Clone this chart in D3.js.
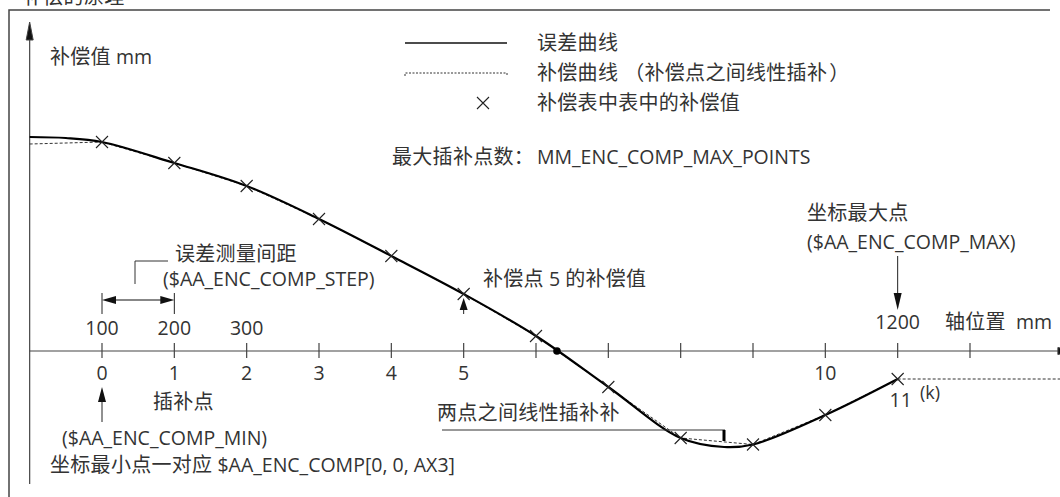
<!DOCTYPE html>
<html>
<head>
<meta charset="utf-8">
<style>
  body { margin: 0; background: #fff; }
  svg { display: block; }
  text { font-family: "Open Sans", "Noto Sans CJK SC", sans-serif; font-size: 19.5px; fill: #333; }
  tspan.cjk { font-family: "Noto Sans CJK SC", sans-serif; font-size: 20px; letter-spacing: 0.3px;
    font-variant-east-asian: full-width; font-feature-settings: "fwid" 1; }
  .axis line, .axis path { stroke: #444; }
</style>
</head>
<body>
<svg id="chart" width="1060" height="497"></svg>
<script src="https://cdn.jsdelivr.net/npm/d3@7"></script>
<script>
// compensation table points (index, value)
var pointIdx = [0, 1, 2, 3, 4, 5, 6, 7, 8, 9, 10, 11];
var compValues = [20.9, 18.8, 16.5, 13.2, 9.5, 5.7, 1.5, -3.6, -8.7, -9.35, -6.4, -2.8];

// error curve samples (measured)
var errX = [-1, -0.5, 0, 1, 2, 3, 4, 5, 6, 7, 8, 8.6, 9, 10, 11];
var errY = [21.4, 21.3, 20.9, 18.8, 16.5, 13.2, 9.5, 5.7, 1.5, -3.6, -8.7, -9.6, -9.35, -6.4, -2.8];

// axis ticks and labels
var tickIdx = [0, 1, 2, 3, 4, 5, 6, 7, 8, 9, 10, 11, 12];
var tickLabels = ["0", "1", "2", "3", "4", "5", "", "", "", "", "10", "", ""];
var posIdx = [0, 1, 2, 11];
var posLabels = ["100", "200", "300", "1200"];

var legendItems = ["误差曲线", "补偿曲线（补偿点之间线性插补）", "补偿表中表中的补偿值"];

var svg = d3.select("#chart");

var x = d3.scaleLinear().domain([0, 12]).range([102, 970]);
var y = d3.scaleLinear().domain([0, 10]).range([351, 251]);

var x0 = x(-1), xEnd = x(13.45), y0 = y(0);

// write text, CJK runs in their own tspan
var cjkRe = /[\u3000-\u303f\u4e00-\u9fff\uff00-\uffef]/;
function label(g, tx, ty, str) {
  var t = g.append("text").attr("x", tx).attr("y", ty).attr("xml:space", "preserve");
  var runs = str.match(/[\u3000-\u303f\u4e00-\u9fff\uff00-\uffef]+|[^\u3000-\u303f\u4e00-\u9fff\uff00-\uffef]+/g);
  runs.forEach(function (r) {
    // split off full-width brackets so they keep a full em
    r.split(/(（|）)/).filter(s => s.length).forEach(function (s) {
      var sp = t.append("tspan").text(s);
      if (cjkRe.test(s)) sp.attr("class", "cjk");
      if (s == "（") sp.attr("dx", 6);
      if (s == "）") sp.attr("dx", 2);
    });
  });
  return t;
}

function arrowHead(g, tx, ty, dir, len, hw) {
  var p;
  if (dir == "up") p = [[tx, ty], [tx - hw, ty + len], [tx + hw, ty + len]];
  if (dir == "down") p = [[tx, ty], [tx - hw, ty - len], [tx + hw, ty - len]];
  if (dir == "left") p = [[tx, ty], [tx + len, ty - hw], [tx + len, ty + hw]];
  if (dir == "right") p = [[tx, ty], [tx - len, ty - hw], [tx - len, ty + hw]];
  g.append("path").attr("d", "M" + p.join("L") + "Z").attr("fill", "#111");
}

function cross(g, cx, cy, r) {
  g.append("path")
    .attr("d", "M" + (cx - r) + "," + (cy - r) + "L" + (cx + r) + "," + (cy + r) +
      "M" + (cx - r) + "," + (cy + r) + "L" + (cx + r) + "," + (cy - r))
    .attr("stroke", "#222").attr("stroke-width", 1.1).attr("fill", "none");
}

// cut-off title and frame
label(svg, 23, 4, "补偿的原理");
svg.append("path").attr("d", "M9,497V10H1050").attr("fill", "none")
  .attr("stroke", "#444").attr("stroke-width", 1.5);

// axes
var ax = svg.append("g").attr("class", "axis");
ax.append("line").attr("x1", x0).attr("x2", x0).attr("y1", 484).attr("y2", 30)
  .attr("stroke-width", 1.2);
arrowHead(ax, x0, 22, "up", 18, 3.5);
ax.append("line").attr("x1", x0).attr("x2", xEnd - 10).attr("y1", y0).attr("y2", y0)
  .attr("stroke-width", 1.2);
arrowHead(ax, xEnd, y0, "right", 17, 3.5);

ax.selectAll(".tick").data(tickIdx).enter().append("line")
  .attr("x1", d => x(d)).attr("x2", d => x(d))
  .attr("y1", y0 - 8).attr("y2", y0 + 7).attr("stroke-width", 1.2);

svg.selectAll(".tlab").data(tickIdx).enter().append("text")
  .attr("x", d => x(d)).attr("y", y0 + 29).attr("text-anchor", "middle")
  .text((d, i) => tickLabels[i]);

svg.selectAll(".plab").data(posIdx).enter().append("text")
  .attr("x", d => x(d)).attr("y", (d, i) => i == 3 ? y0 - 22 : y0 - 16)
  .attr("text-anchor", "middle")
  .text((d, i) => posLabels[i]);

label(svg, 945, y0 - 22, "轴位置  mm");
label(svg, 50, 64, "补偿值 mm");

// compensation curve (dashed, linear between points)
var compLine = d3.line().x(d => x(d[0])).y(d => y(d[1]));
var compData = [[-1, compValues[0] - 0.2]].concat(pointIdx.map((p, i) => [p, compValues[i]]));
svg.append("path").datum(compData).attr("d", compLine)
  .attr("fill", "none").attr("stroke", "#333").attr("stroke-width", 1)
  .attr("stroke-dasharray", "3,2");
svg.append("path").datum([[11, compValues[11]], [13.3, compValues[11]]]).attr("d", compLine)
  .attr("fill", "none").attr("stroke", "#333").attr("stroke-width", 1)
  .attr("stroke-dasharray", "3,2");

// error curve
var errLine = d3.line().x(d => x(d[0])).y(d => y(d[1])).curve(d3.curveCatmullRom.alpha(0.5));
svg.append("path").datum(errX.map((v, i) => [v, errY[i]])).attr("d", errLine)
  .attr("fill", "none").attr("stroke", "#000").attr("stroke-width", 2.2);

// table points
pointIdx.forEach(function (p, i) { cross(svg, x(p), y(compValues[i]), 6); });

// zero crossing dot
svg.append("circle").attr("cx", x(6.29)).attr("cy", y0).attr("r", 3.8).attr("fill", "#000");

// legend
var lg = svg.append("g");
lg.append("line").attr("x1", 405).attr("x2", 507).attr("y1", 43).attr("y2", 43)
  .attr("stroke", "#111").attr("stroke-width", 1.5);
lg.append("path").attr("d", "M405,76V73H507V76").attr("fill", "none")
  .attr("stroke", "#333").attr("stroke-width", 1).attr("stroke-dasharray", "2,1.5");
cross(lg, 483, 103, 6);
legendItems.forEach(function (d, i) { label(lg, 537, 50 + i * 30, d); });
label(lg, 392, 164, "最大插补点数：");
label(lg, 537, 164, "MM_ENC_COMP_MAX_POINTS");

// step annotation
var an = svg.append("g");
an.append("path").attr("d", "M168,261H135V284").attr("fill", "none").attr("stroke", "#333");
label(an, 175, 261, "误差测量间距");
label(an, 163, 286, "($AA_ENC_COMP_STEP)");
[0, 1].forEach(function (p) {
  an.append("line").attr("x1", x(p)).attr("x2", x(p)).attr("y1", 293).attr("y2", 314)
    .attr("stroke", "#222");
});
an.append("line").attr("x1", x(0) + 10).attr("x2", x(1) - 10).attr("y1", 300).attr("y2", 300)
  .attr("stroke", "#111").attr("stroke-width", 1.2);
arrowHead(an, x(0), 300, "left", 14, 4);
arrowHead(an, x(1), 300, "right", 14, 4);

// point 5 arrow
an.append("line").attr("x1", x(5)).attr("x2", x(5)).attr("y1", 314).attr("y2", 305)
  .attr("stroke", "#222");
arrowHead(an, x(5), 298, "up", 12, 4);
label(an, 483, 286, "补偿点 5 的补偿值");

// max point
label(an, 807, 220, "坐标最大点");
label(an, 807, 249, "($AA_ENC_COMP_MAX)");
an.append("line").attr("x1", x(11)).attr("x2", x(11)).attr("y1", 256).attr("y2", 296)
  .attr("stroke", "#222");
arrowHead(an, x(11), 310, "down", 17, 4);

// labels near point 11
an.append("text").attr("x", x(11) + 3).attr("y", 407).attr("text-anchor", "middle").text("11");
an.append("text").attr("x", 920).attr("y", 399).style("font-size", "18px").text("(k)");

// min point
an.append("line").attr("x1", x(0)).attr("x2", x(0)).attr("y1", 422).attr("y2", 398)
  .attr("stroke", "#222");
arrowHead(an, x(0), 387, "up", 15, 4);
label(an, 153, 409, "插补点");
label(an, 62, 445, "($AA_ENC_COMP_MIN)");
label(an, 50, 472, "坐标最小点一对应 $AA_ENC_COMP[0, 0, AX3]");

// interpolation note
label(an, 437, 420, "两点之间线性插补补");
an.append("line").attr("x1", 442).attr("x2", 725).attr("y1", 430).attr("y2", 430)
  .attr("stroke", "#333");
an.append("line").attr("x1", 724).attr("x2", 724).attr("y1", 430).attr("y2", 441)
  .attr("stroke", "#000").attr("stroke-width", 3);
</script>
</body>
</html>
